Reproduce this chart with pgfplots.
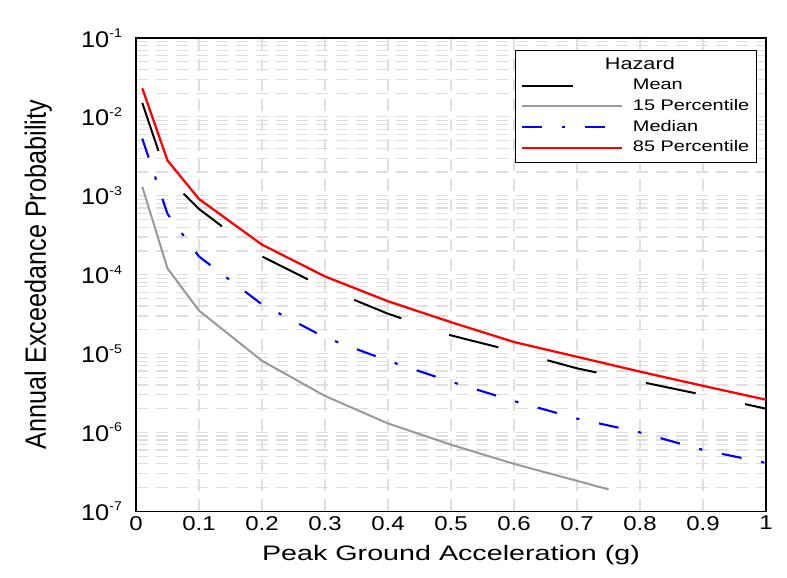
\documentclass[border=0pt]{standalone}
\usepackage{fontspec}
\setmainfont{Liberation Sans}
\newfontfamily\narrowfont[FakeStretch=0.86]{Liberation Sans}
\newfontfamily\xwide[FakeStretch=1.37]{Liberation Sans}
\newfontfamily\tickwide[FakeStretch=1.2]{Liberation Sans}
\newfontfamily\ytickwide[FakeStretch=1.12]{Liberation Sans}
\newfontfamily\legwide[FakeStretch=1.3]{Liberation Sans}
\usepackage{pgfplots}
\pgfplotsset{compat=1.18}
\begin{document}
\begin{tikzpicture}
\begin{axis}[
    name=ax,
    scale only axis,
    width=472.5pt, height=355pt,
    ymode=log, log basis y=10,
    xmin=0, xmax=1, ymin=1e-7, ymax=1e-1,
    xtick={0,0.1,...,1.01},
    xticklabels={0,0.1,0.2,0.3,0.4,0.5,0.6,0.7,0.8,0.9,1},
    ytick={1e-7,1e-6,1e-5,1e-4,1e-3,1e-2,1e-1},
    minor ytick={2e-7,3e-7,4e-7,5e-7,6e-7,7e-7,8e-7,9e-7,
                 2e-6,3e-6,4e-6,5e-6,6e-6,7e-6,8e-6,9e-6,
                 2e-5,3e-5,4e-5,5e-5,6e-5,7e-5,8e-5,9e-5,
                 2e-4,3e-4,4e-4,5e-4,6e-4,7e-4,8e-4,9e-4,
                 2e-3,3e-3,4e-3,5e-3,6e-3,7e-3,8e-3,9e-3,
                 2e-2,3e-2,4e-2,5e-2,6e-2,7e-2,8e-2,9e-2},
    log number format basis/.code 2 args={10\raisebox{0.8ex}{\fontsize{9.5}{10}\selectfont\pgfmathprintnumber{#2}}},
    xticklabel style={font=\tickwide\fontsize{15}{16}\selectfont},
    yticklabel style={font=\ytickwide\fontsize{17}{18}\selectfont, xshift=-7pt},
    /pgf/number format/assume math mode=true,
    grid=both,
    major grid style={gray!25, dash pattern=on 9pt off 6pt, line width=0.9pt},
    minor grid style={gray!25, dash pattern=on 9pt off 6pt, line width=0.9pt},
    minor x tick num=0,
    major tick length=0pt, minor tick length=0pt,
    axis line style={black, line width=0.9pt},
    xlabel={Peak Ground Acceleration (g)},
    xlabel style={font=\xwide\fontsize{15.7}{18}\selectfont, at={(axis description cs:0.5,-0.093)}, anchor=center},
    ylabel={Annual Exceedance Probability},
    ylabel style={font=\narrowfont\fontsize{22}{24}\selectfont, at={(axis description cs:-0.155,0.5)}, anchor=center, rotate=0},
    legend style={at={(0.986,0.975)}, anchor=north east, draw=black, line width=0.8pt,
      font=\legwide\fontsize{11.5}{13}\selectfont, cells={anchor=west},
      nodes={inner sep=1.5pt, text height=8.5pt, text depth=2.5pt},
      inner sep=4pt, row sep=1.5pt, column sep=6pt},
    legend image code/.code={\draw[#1] (0pt,0pt) -- (75pt,0pt);},
]
\addlegendimage{empty legend}
\addlegendentry{\hspace{-21pt}\fontsize{12.5}{14}\selectfont Hazard}

\addplot[black, line width=1.5pt, dash pattern=on 38pt off 38pt] coordinates {
(0.01,1.5e-2) (0.05,1.7e-3) (0.1,6.8e-4) (0.2,1.7e-4) (0.3,6.8e-5) (0.4,3.2e-5)
(0.5,1.7e-5) (0.6,1.07e-5) (0.7,6.5e-6) (0.8,4.4e-6) (0.9,3.0e-6) (1.0,2.0e-6)};
\addlegendentry{Mean}

\addplot[gray!80, line width=1.5pt] coordinates {
(0.01,1.3e-3) (0.05,1.2e-4) (0.1,3.5e-5) (0.2,8.1e-6) (0.3,2.9e-6) (0.4,1.3e-6)
(0.5,7.0e-7) (0.6,4.0e-7) (0.75,1.9e-7)};
\addlegendentry{15 Percentile}

\addplot[blue, line width=1.6pt, dash pattern=on 15pt off 15pt on 2.5pt off 15pt] coordinates {
(0.01,5.3e-3) (0.05,5.9e-4) (0.1,1.7e-4) (0.2,4.2e-5) (0.3,1.6e-5) (0.4,8.1e-6)
(0.5,4.4e-6) (0.6,2.5e-6) (0.7,1.5e-6) (0.8,1.0e-6) (0.9,6.0e-7) (1.0,4.1e-7)};
\addlegendentry{Median}

\addplot[red, line width=1.7pt] coordinates {
(0.01,2.3e-2) (0.05,2.8e-3) (0.1,9.1e-4) (0.2,2.4e-4) (0.3,9.5e-5) (0.4,4.6e-5)
(0.5,2.5e-5) (0.6,1.4e-5) (0.7,9.1e-6) (0.8,5.9e-6) (0.9,3.9e-6) (1.0,2.6e-6)};
\addlegendentry{85 Percentile}
\end{axis}
\pgfresetboundingbox
\path ([shift={(-102pt,-49.5pt)}]ax.south west) rectangle ([shift={(15.75pt,28.5pt)}]ax.north east);
\end{tikzpicture}
\end{document}
